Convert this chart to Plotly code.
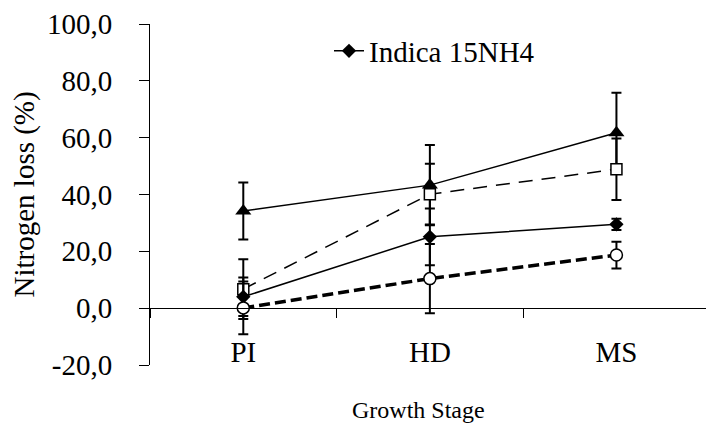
import plotly.graph_objects as go

stages = ["PI", "HD", "MS"]

tri_vals = [34.2, 43.3, 61.7]
tri_err = [10.0, 14.1, 14.1]

sq_vals = [6.7, 40.1, 48.9]
sq_err = [10.5, 10.7, 10.8]

dia_vals = [4.0, 25.1, 29.5]
dia_err = [6.8, 10.0, 2.0]

circ_vals = [0.1, 10.4, 18.7]
circ_err = [9.3, 12.2, 4.7]

y_ticks = [-20, 0, 20, 40, 60, 80, 100]
y_tick_labels = ["-20,0", "0,0", "20,0", "40,0", "60,0", "80,0", "100,0"]

SERIF = "Liberation Serif"

def err(vals):
    return dict(type="data", array=vals, symmetric=True, color="black", thickness=2, width=5)

fig = go.Figure()

fig.add_trace(go.Scatter(
    x=stages, y=tri_vals, mode="lines+markers", showlegend=False,
    line=dict(color="black", width=1.5),
    marker=dict(symbol="triangle-up", size=14, color="black"),
    error_y=err(tri_err)))

fig.add_trace(go.Scatter(
    x=stages, y=sq_vals, mode="lines+markers", showlegend=False,
    line=dict(color="black", width=1.5, dash="14px,9px"),
    marker=dict(symbol="square", size=11, color="white", line=dict(color="black", width=1.5)),
    error_y=err(sq_err)))

fig.add_trace(go.Scatter(
    x=stages, y=dia_vals, mode="lines+markers", name="Indica 15NH4",
    line=dict(color="black", width=1.5),
    marker=dict(symbol="diamond", size=11, color="black"),
    error_y=err(dia_err)))

fig.add_trace(go.Scatter(
    x=stages, y=circ_vals, mode="lines+markers", showlegend=False,
    line=dict(color="black", width=3.5, dash="11px,5px"),
    marker=dict(symbol="circle", size=12, color="white", line=dict(color="black", width=1.5)),
    error_y=err(circ_err)))

ymin, ymax = -20, 100
xrange = [-0.5, 2.48]
xpos = (0 - ymin) / (ymax - ymin)

fig.update_layout(
    width=706, height=424, autosize=False,
    margin=dict(l=150, r=0, t=24, b=59),
    paper_bgcolor="white", plot_bgcolor="white",
    font=dict(family=SERIF, color="black"),
    showlegend=True,
    legend=dict(x=(329 - 150) / 556, xanchor="left", y=(365 - 51) / 341, yanchor="middle",
                bgcolor="rgba(0,0,0,0)", font=dict(family=SERIF, size=29, color="black"),
                borderwidth=0),
    xaxis=dict(
        type="category", categoryorder="array", categoryarray=stages,
        range=xrange, anchor="free", position=xpos,
        showline=True, linecolor="black", linewidth=1,
        showgrid=False, zeroline=False,
        tickson="boundaries", ticks="outside", ticklen=9, tickwidth=1, tickcolor="black",
        ticklabelstandoff=18,
        tickfont=dict(family=SERIF, size=29, color="black"),
    ),
    xaxis2=dict(
        type="category", categoryorder="array", categoryarray=stages,
        range=xrange, anchor="free", position=xpos, overlaying="x",
        showline=False, showgrid=False, zeroline=False,
        tickson="boundaries", ticks="inside", ticklen=9, tickwidth=1, tickcolor="black",
        showticklabels=False,
    ),
    yaxis=dict(
        range=[ymin, ymax], tickmode="array", tickvals=y_ticks, ticktext=y_tick_labels,
        showline=True, linecolor="black", linewidth=1,
        showgrid=False, zeroline=False,
        ticks="outside", ticklen=10, tickwidth=1, tickcolor="black",
        ticklabelstandoff=21,
        tickfont=dict(family=SERIF, size=29, color="black"),
    ),
    yaxis2=dict(
        range=[ymin, ymax], tickmode="array", tickvals=y_ticks, overlaying="y",
        showline=False, showgrid=False, zeroline=False,
        ticks="inside", ticklen=9, tickwidth=1, tickcolor="black",
        showticklabels=False,
    ),
    annotations=[
        dict(text="Nitrogen loss (%)", xref="paper", yref="paper",
             x=(24 - 150) / 556, y=0.5, xanchor="center", yanchor="middle",
             textangle=-90, showarrow=False,
             font=dict(family=SERIF, size=29, color="black")),
        dict(text="Growth Stage", xref="paper", yref="paper",
             x=(418 - 150) / 556, y=-(410 - 365) / 341, xanchor="center", yanchor="middle",
             showarrow=False,
             font=dict(family=SERIF, size=24, color="black")),
    ],
)

fig.write_html("out.html")
